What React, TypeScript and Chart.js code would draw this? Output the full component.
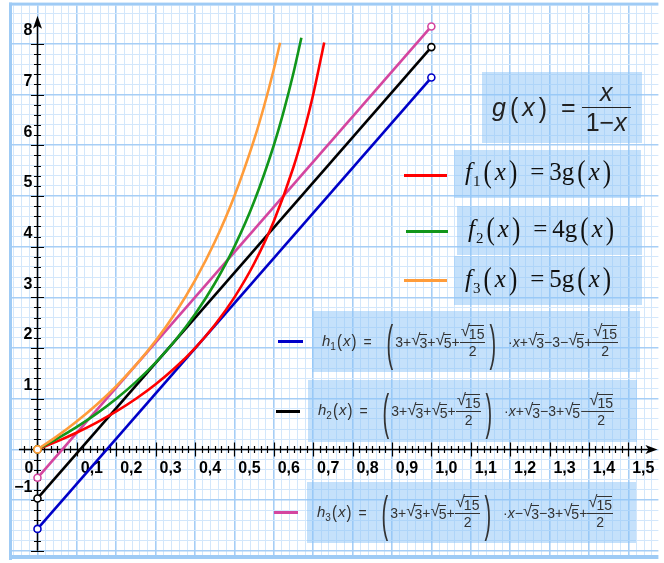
import React, { useEffect, useRef } from "react";
import { Chart, registerables } from "chart.js";

Chart.register(...registerables);

// ---------------- data ----------------
// straight lines h1, h2, h3 (x from 0 to 1)
const LINE_X = [0, 1];
const H1_Y = [-1.568, 7.336];
const H2_Y = [-0.968, 7.936];
const H3_Y = [-0.56, 8.344];

// f1(x) = 3g(x)
const F1_X = [0, 0.05, 0.1, 0.15, 0.2, 0.25, 0.3, 0.35, 0.4, 0.45, 0.5, 0.55, 0.6, 0.65, 0.68, 0.7, 0.728];
const F1_Y = [0, 0.158, 0.333, 0.529, 0.75, 1.0, 1.286, 1.615, 2.0, 2.455, 3.0, 3.667, 4.5, 5.571, 6.375, 7.0, 8.029];

// f2(x) = 4g(x)
const F2_X = [0, 0.05, 0.1, 0.15, 0.2, 0.25, 0.3, 0.35, 0.4, 0.45, 0.5, 0.55, 0.6, 0.625, 0.65, 0.67];
const F2_Y = [0, 0.211, 0.444, 0.706, 1.0, 1.333, 1.714, 2.154, 2.667, 3.273, 4.0, 4.889, 6.0, 6.667, 7.429, 8.121];

// f3(x) = 5g(x)
const F3_X = [0, 0.05, 0.1, 0.15, 0.2, 0.25, 0.3, 0.35, 0.4, 0.45, 0.5, 0.55, 0.575, 0.6, 0.616];
const F3_Y = [0, 0.263, 0.556, 0.882, 1.25, 1.667, 2.143, 2.692, 3.333, 4.091, 5.0, 6.111, 6.765, 7.5, 8.021];

// axis labels
const X_TICK_VALUES = [0.1, 0.2, 0.3, 0.4, 0.5, 0.6, 0.7, 0.8, 0.9, 1.0, 1.1, 1.2, 1.3, 1.4, 1.5];
const X_TICK_LABELS = ["0,1", "0,2", "0,3", "0,4", "0,5", "0,6", "0,7", "0,8", "0,9", "1,0", "1,1", "1,2", "1,3", "1,4", "1,5"];
const Y_TICK_VALUES = [-1, 1, 2, 3, 4, 5, 6, 7, 8];
const Y_TICK_LABELS = ["\u22121", "1", "2", "3", "4", "5", "6", "7", "8"];
const ORIGIN_LABEL = "0";

// ---------------- styling ----------------
const X_MIN = -0.0647;
const X_MAX = 1.5764;
const Y_MIN = -2.083;
const Y_MAX = 8.755;

const C_F1 = "#ff0000";
const C_F2 = "#12961a";
const C_F3 = "#ff9c3a";
const C_H1 = "#0000c8";
const C_H2 = "#000000";
const C_H3 = "#d4459f";

const GRID_MINOR = "#d3e7fb";
const GRID_MAJOR = "#a6cef6";
const FRAME = "#9fcbf5";
const BOX_BG = "rgba(140, 195, 248, 0.5)";
const SANS = '"Liberation Sans", Arial, sans-serif';
const SERIF = '"Liberation Serif", "Times New Roman", serif';

const pts = (xs: number[], ys: number[]) => xs.map((x, i) => ({ x, y: ys[i] }));

const range = (from: number, to: number) => {
  const out: number[] = [];
  for (let i = from; i <= to; i++) out.push(i);
  return out;
};

const framePlugin = {
  id: "frame",
  beforeDraw(chart: any) {
    const { ctx } = chart;
    ctx.save();
    ctx.fillStyle = "#ffffff";
    ctx.fillRect(0, 0, chart.width, chart.height);
    ctx.restore();
  },
  afterDraw(chart: any) {
    const { ctx, chartArea } = chart;
    ctx.save();
    ctx.fillStyle = FRAME;
    const l = chartArea.left, t = chartArea.top, b = chartArea.bottom, r = chartArea.right;
    ctx.fillRect(l - 3, t - 3, 3, b - t + 8);
    ctx.fillRect(l - 3, t - 3, r - l + 3, 3);
    ctx.fillRect(l - 3, b, r - l + 3, 4);
    ctx.restore();
  },
};

const axesPlugin = {
  id: "axes",
  beforeDatasetsDraw(chart: any) {
    const { ctx } = chart;
    const xs = chart.scales.x;
    const ys = chart.scales.y;
    const x0 = xs.getPixelForValue(0);
    const y0 = ys.getPixelForValue(0);
    ctx.save();
    ctx.strokeStyle = "#000";
    ctx.fillStyle = "#000";
    ctx.lineWidth = 1.5;

    // x axis line and arrow
    const xl = xs.getPixelForValue(-0.047);
    const xr = xs.getPixelForValue(1.574);
    ctx.beginPath();
    ctx.moveTo(xl, y0);
    ctx.lineTo(xr - 6, y0);
    ctx.stroke();
    ctx.beginPath();
    ctx.moveTo(xr, y0);
    ctx.lineTo(xr - 12, y0 - 4.5);
    ctx.lineTo(xr - 9, y0);
    ctx.lineTo(xr - 12, y0 + 4.5);
    ctx.closePath();
    ctx.fill();

    // y axis line and arrow
    const yb = ys.getPixelForValue(-2.0);
    const yt = ys.getPixelForValue(8.557);
    ctx.beginPath();
    ctx.moveTo(x0, yb);
    ctx.lineTo(x0, yt + 6);
    ctx.stroke();
    ctx.beginPath();
    ctx.moveTo(x0, yt);
    ctx.lineTo(x0 - 4.5, yt + 13);
    ctx.lineTo(x0, yt + 10);
    ctx.lineTo(x0 + 4.5, yt + 13);
    ctx.closePath();
    ctx.fill();

    // x ticks (6 per 0.1)
    ctx.lineWidth = 1.2;
    ctx.beginPath();
    for (const i of range(-2, 92)) {
      const px = Math.round(xs.getPixelForValue(i / 60)) + 0.5;
      const len = i % 6 === 0 ? 7 : 3.5;
      ctx.moveTo(px, y0 - len);
      ctx.lineTo(px, y0 + len);
    }
    // y ticks (5 per unit)
    for (const i of range(-10, 40)) {
      if (i === 0) continue;
      const py = Math.round(ys.getPixelForValue(i / 5)) + 0.5;
      const len = i % 5 === 0 ? 6.5 : 3.5;
      ctx.moveTo(x0 - len, py);
      ctx.lineTo(x0 + len, py);
    }
    ctx.stroke();

    // labels
    ctx.font = 'bold 16px "Liberation Sans", Arial, sans-serif';
    ctx.textBaseline = "middle";
    ctx.textAlign = "center";
    X_TICK_VALUES.forEach((v, i) => {
      ctx.fillText(X_TICK_LABELS[i], xs.getPixelForValue(v) + 15, y0 + 19);
    });
    ctx.fillText(ORIGIN_LABEL, x0 - 8.5, y0 + 19);
    ctx.textAlign = "right";
    Y_TICK_VALUES.forEach((v, i) => {
      ctx.fillText(Y_TICK_LABELS[i], x0 - 5, ys.getPixelForValue(v) - 13);
    });
    ctx.restore();
  },
};

const isMajor = (v: number, step: number) => {
  const k = Math.round(v / step);
  return Math.abs(k * step - v) < step / 100 && k % 5 === 0;
};

// ---------------- formula helpers ----------------
function Sqrt({ children }: { children: any }) {
  return (
    <span style={{ display: "inline-flex", alignItems: "flex-start", lineHeight: 1 }}>
      <span style={{ fontSize: "1.2em", lineHeight: 1, marginRight: -1, marginTop: -1 }}>{"\u221A"}</span>
      <span style={{ borderTop: "1px solid currentColor", marginTop: 1, paddingTop: 1, lineHeight: 1 }}>{children}</span>
    </span>
  );
}

function Frac({ num, den, pad = 1 }: { num: any; den: any; pad?: number }) {
  return (
    <span style={{ display: "inline-flex", flexDirection: "column", alignItems: "stretch", textAlign: "center", lineHeight: 1.1 }}>
      <span style={{ padding: `0 ${pad}px 1px` }}>{num}</span>
      <span style={{ borderTop: "1px solid currentColor", padding: `1px ${pad}px 0` }}>{den}</span>
    </span>
  );
}

function Paren({ ch, size, scale, mx = 2 }: { ch: string; size: number; scale: number; mx?: number }) {
  return (
    <span style={{ display: "inline-block", fontSize: size, transform: `scaleY(${scale})`, margin: `0 ${mx}px`, lineHeight: 1, fontStyle: "normal" }}>
      {ch}
    </span>
  );
}

const boxStyle = (l: number, t: number, w: number, h: number): any => ({
  position: "absolute",
  left: l,
  top: t,
  width: w,
  height: h,
  background: BOX_BG,
  display: "flex",
  alignItems: "center",
  boxSizing: "border-box",
  whiteSpace: "nowrap",
});

const sample = (l: number, t: number, w: number, color: string): any => ({
  position: "absolute",
  left: l,
  top: t,
  width: w,
  height: 3,
  background: color,
});

function FBox({ l, t, w, h, sub, k }: { l: number; t: number; w: number; h: number; sub: string; k: string }) {
  return (
    <div style={{ ...boxStyle(l, t, w, h), paddingLeft: 11, fontFamily: SERIF, fontSize: 25, color: "#111" }}>
      <span>
        <i>f</i>
        <sub style={{ fontSize: 15, marginLeft: 1 }}>{sub}</sub>
        <Paren ch="(" size={25} scale={1.25} mx={3} />
        <i>x</i>
        <Paren ch=")" size={25} scale={1.25} mx={3} />
        <span style={{ margin: "0 5px 0 10px" }}>=</span>
        {k}g
        <Paren ch="(" size={25} scale={1.25} mx={3} />
        <i>x</i>
        <Paren ch=")" size={25} scale={1.25} mx={3} />
      </span>
    </div>
  );
}

function HBox({ l, t, w, h, sub, tail }: { l: number; t: number; w: number; h: number; sub: string; tail: any }) {
  return (
    <div style={{ ...boxStyle(l, t, w, h), paddingLeft: 10, fontFamily: SANS, fontSize: 14, color: "#333" }}>
      <span style={{ fontSize: 15 }}>
        <i>h</i>
        <sub style={{ fontSize: 10 }}>{sub}</sub>
        <Paren ch="(" size={15} scale={1.2} mx={1} />
        <i>x</i>
        <Paren ch=")" size={15} scale={1.2} mx={1} />
      </span>
      <span style={{ margin: "0 13px 0 6px" }}>=</span>
      <Paren ch="(" size={20} scale={2.5} mx={2} />
      <span>3+</span>
      <Sqrt>3</Sqrt>
      <span>+</span>
      <Sqrt>5</Sqrt>
      <span>+</span>
      <Frac num={<Sqrt>15</Sqrt>} den="2" />
      <Paren ch=")" size={20} scale={2.5} mx={4} />
      <span style={{ marginLeft: 8 }}>
        {"\u00B7"}
        <i>x</i>
      </span>
      {tail}
      <Frac num={<Sqrt>15</Sqrt>} den="2" />
    </div>
  );
}

export default function App() {
  const canvasRef = useRef<HTMLCanvasElement | null>(null);

  useEffect(() => {
    if (!canvasRef.current) return;
    const xGrid = range(-3, 78).map((i) => i * 0.02);
    const yGrid = range(-10, 43).map((i) => i * 0.2);

    const curve = (label: string, xs: number[], ys: number[], color: string) => ({
      label,
      data: pts(xs, ys),
      borderColor: color,
      borderWidth: 2.6,
      cubicInterpolationMode: "monotone" as const,
      pointRadius: (c: any) => (c.dataIndex === 0 ? 3.5 : 0),
      pointBackgroundColor: "#ffffff",
      pointBorderColor: color,
      pointBorderWidth: 1.6,
      fill: false,
    });
    const line = (label: string, ys: number[], color: string) => ({
      label,
      data: pts(LINE_X, ys),
      borderColor: color,
      borderWidth: 2.6,
      pointRadius: 3.5,
      pointBackgroundColor: "#ffffff",
      pointBorderColor: color,
      pointBorderWidth: 1.6,
      fill: false,
    });

    const chart = new Chart(canvasRef.current, {
      type: "line",
      data: {
        datasets: [
          curve("f3", F3_X, F3_Y, C_F3),
          curve("f2", F2_X, F2_Y, C_F2),
          curve("f1", F1_X, F1_Y, C_F1),
          line("h3", H3_Y, C_H3),
          line("h2", H2_Y, C_H2),
          line("h1", H1_Y, C_H1),
        ] as any,
      },
      options: {
        animation: false,
        responsive: false,
        devicePixelRatio: 1,
        events: [],
        layout: { padding: { left: 12, top: 5, right: 0, bottom: 8 } },
        plugins: {
          legend: { display: false },
          tooltip: { enabled: false },
          title: { display: false },
        },
        scales: {
          x: {
            type: "linear",
            min: X_MIN,
            max: X_MAX,
            bounds: "data",
            border: { display: false },
            ticks: { display: false },
            grid: {
              drawTicks: false,
              color: (c: any) => (c.tick && isMajor(c.tick.value, 0.02) ? GRID_MAJOR : GRID_MINOR),
              lineWidth: (c: any) => (c.tick && isMajor(c.tick.value, 0.02) ? 1.6 : 1),
            },
            afterBuildTicks: (s: any) => {
              s.ticks = xGrid.map((v) => ({ value: v }));
            },
          },
          y: {
            type: "linear",
            min: Y_MIN,
            max: Y_MAX,
            bounds: "data",
            border: { display: false },
            ticks: { display: false },
            grid: {
              drawTicks: false,
              color: (c: any) => (c.tick && isMajor(c.tick.value, 0.2) ? GRID_MAJOR : GRID_MINOR),
              lineWidth: (c: any) => (c.tick && isMajor(c.tick.value, 0.2) ? 1.6 : 1),
            },
            afterBuildTicks: (s: any) => {
              s.ticks = yGrid.map((v) => ({ value: v }));
            },
          },
        },
      } as any,
      plugins: [framePlugin, axesPlugin],
    });
    return () => chart.destroy();
  }, []);

  return (
    <div style={{ position: "fixed", left: 0, top: 0, width: 664, height: 563, background: "#fff", overflow: "hidden" }}>
      <canvas ref={canvasRef} width={664} height={563} style={{ position: "absolute", left: 0, top: 0, width: 664, height: 563 }} />

      {/* g(x) definition */}
      <div style={{ ...boxStyle(482, 72, 160, 71), paddingLeft: 10, fontFamily: SANS, fontSize: 25, color: "#222" }}>
        <i>g</i>
        <Paren ch="(" size={25} scale={1.1} mx={4} />
        <i>x</i>
        <Paren ch=")" size={25} scale={1.1} mx={4} />
        <span style={{ margin: "0 6px 0 10px" }}>=</span>
        <Frac num={<i>x</i>} den={<span>1{"\u2212"}<i>x</i></span>} pad={4} />
      </div>

      <div style={sample(404, 174, 43, C_F1)} />
      <FBox l={454} t={150} w={187} h={48} sub="1" k="3" />
      <div style={sample(406, 230, 42, C_F2)} />
      <FBox l={457} t={206} w={185} h={49} sub="2" k="4" />
      <div style={sample(404, 279, 43, C_F3)} />
      <FBox l={454} t={256} w={188} h={49} sub="3" k="5" />

      <div style={sample(278, 340, 25, C_H1)} />
      <HBox
        l={312}
        t={311}
        w={328}
        h={61}
        sub="1"
        tail={
          <>
            <span>+</span>
            <Sqrt>3</Sqrt>
            <span>{"\u22123\u2212"}</span>
            <Sqrt>5</Sqrt>
            <span>+</span>
          </>
        }
      />
      <div style={sample(276, 410, 24, C_H2)} />
      <HBox
        l={308}
        t={380}
        w={329}
        h={62}
        sub="2"
        tail={
          <>
            <span>+</span>
            <Sqrt>3</Sqrt>
            <span>{"\u22123+"}</span>
            <Sqrt>5</Sqrt>
            <span>{"\u2212"}</span>
          </>
        }
      />
      <div style={sample(274, 511, 24, C_H3)} />
      <HBox
        l={307}
        t={482}
        w={329}
        h={61}
        sub="3"
        tail={
          <>
            <span>{"\u2212"}</span>
            <Sqrt>3</Sqrt>
            <span>{"\u22123+"}</span>
            <Sqrt>5</Sqrt>
            <span>+</span>
          </>
        }
      />
    </div>
  );
}
